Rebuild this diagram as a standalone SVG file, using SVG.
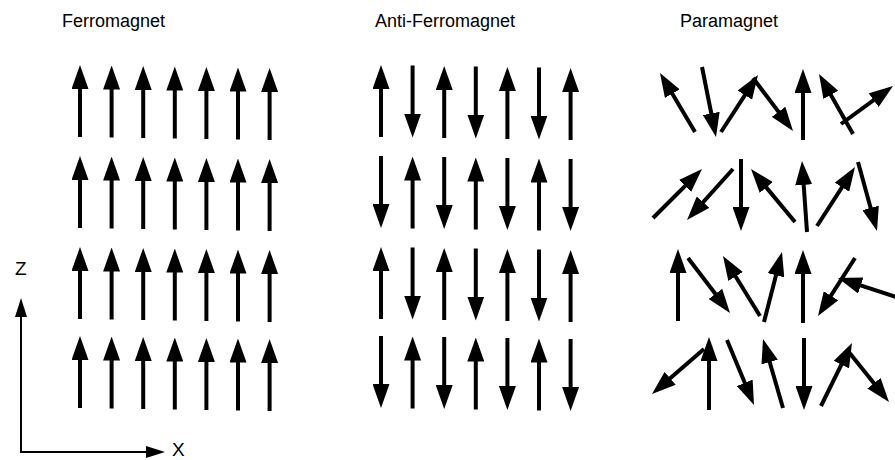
<svg xmlns="http://www.w3.org/2000/svg" xmlns:xlink="http://www.w3.org/1999/xlink" width="895" height="460" viewBox="0 0 895 460">
<style>
.t{font-family:"Liberation Sans",Arial,sans-serif;font-size:18px;fill:#000}
.ax{font-family:"Liberation Sans",Arial,sans-serif;font-size:19px;fill:#000}
.ar{fill:none;stroke:#000;stroke-width:4;stroke-dasharray:80 100;marker-end:url(#ah)}
.axis{fill:none;stroke:#000;stroke-width:2;marker-start:url(#axh);marker-end:url(#axh)}
</style>
<defs>
<marker id="ah" markerUnits="userSpaceOnUse" viewBox="0 0 24 17" markerWidth="24" markerHeight="17" refX="24" refY="8.5" orient="auto"><path d="M0,0 L24,8.5 L0,17 Z" fill="#000"/></marker>
<marker id="axh" markerUnits="userSpaceOnUse" viewBox="0 0 19 12" markerWidth="19" markerHeight="12" refX="9" refY="6" orient="auto-start-reverse"><path d="M0,0 L19,6 L0,12 Z" fill="#000"/></marker>
<path id="up" class="ar" pathLength="100" d="M0,72 L0,0"/>
<path id="dn" class="ar" pathLength="100" d="M0,0 L0,72"/>
</defs>
<g id="titles">
<text class="t" x="62" y="27">Ferromagnet</text>
<text class="t" x="375" y="27">Anti-Ferromagnet</text>
<text class="t" x="680" y="27">Paramagnet</text>
</g>
<g id="axes">
<path class="axis" d="M21,308 L21,452 L155,452"/>
<text class="ax" x="15" y="275">Z</text>
<text class="ax" x="172" y="456">X</text>
</g>
<g id="ferromagnet">
<g transform="translate(0,0)">
<use href="#up" x="80" y="65"/><use href="#up" x="111.6" y="65.5"/><use href="#up" x="143.2" y="66"/><use href="#up" x="174.8" y="66.5"/><use href="#up" x="206.4" y="67"/><use href="#up" x="238" y="67.5"/><use href="#up" x="269.6" y="68"/>
</g>
<g transform="translate(0,91)">
<use href="#up" x="80" y="65"/><use href="#up" x="111.6" y="65.5"/><use href="#up" x="143.2" y="66"/><use href="#up" x="174.8" y="66.5"/><use href="#up" x="206.4" y="67"/><use href="#up" x="238" y="67.5"/><use href="#up" x="269.6" y="68"/>
</g>
<g transform="translate(0,182)">
<use href="#up" x="80" y="65"/><use href="#up" x="111.6" y="65.5"/><use href="#up" x="143.2" y="66"/><use href="#up" x="174.8" y="66.5"/><use href="#up" x="206.4" y="67"/><use href="#up" x="238" y="67.5"/><use href="#up" x="269.6" y="68"/>
</g>
<g transform="translate(0,271)">
<use href="#up" x="80" y="65"/><use href="#up" x="111.6" y="65.5"/><use href="#up" x="143.2" y="66"/><use href="#up" x="174.8" y="66.5"/><use href="#up" x="206.4" y="67"/><use href="#up" x="238" y="67.5"/><use href="#up" x="269.6" y="68"/>
</g>
</g>
<g id="antiferromagnet">
<g transform="translate(0,0)">
<use href="#up" x="381" y="65"/><use href="#dn" x="412.6" y="65.5"/><use href="#up" x="444.2" y="66"/><use href="#dn" x="475.8" y="66.5"/><use href="#up" x="507.4" y="67"/><use href="#dn" x="539" y="67.5"/><use href="#up" x="570.6" y="68"/>
</g>
<g transform="translate(0,91)">
<use href="#dn" x="381" y="65"/><use href="#up" x="412.6" y="65.5"/><use href="#dn" x="444.2" y="66"/><use href="#up" x="475.8" y="66.5"/><use href="#dn" x="507.4" y="67"/><use href="#up" x="539" y="67.5"/><use href="#dn" x="570.6" y="68"/>
</g>
<g transform="translate(0,182)">
<use href="#up" x="381" y="65"/><use href="#dn" x="412.6" y="65.5"/><use href="#up" x="444.2" y="66"/><use href="#dn" x="475.8" y="66.5"/><use href="#up" x="507.4" y="67"/><use href="#dn" x="539" y="67.5"/><use href="#up" x="570.6" y="68"/>
</g>
<g transform="translate(0,271)">
<use href="#dn" x="381" y="65"/><use href="#up" x="412.6" y="65.5"/><use href="#dn" x="444.2" y="66"/><use href="#up" x="475.8" y="66.5"/><use href="#dn" x="507.4" y="67"/><use href="#up" x="539" y="67.5"/><use href="#dn" x="570.6" y="68"/>
</g>
</g>
<g id="paramagnet">
<path class="ar" pathLength="100" d="M695,132 L660,73"/>
<path class="ar" pathLength="100" d="M702,67 L716,137"/>
<path class="ar" pathLength="100" d="M721,132 L758,75"/>
<path class="ar" pathLength="100" d="M753,78 L793,131"/>
<path class="ar" pathLength="100" d="M803,140 L803,69"/>
<path class="ar" pathLength="100" d="M853,134 L819,74"/>
<path class="ar" pathLength="100" d="M841,124 L893,86"/>

<path class="ar" pathLength="100" d="M653,218 L702,169"/>
<path class="ar" pathLength="100" d="M733,169 L687,220"/>
<path class="ar" pathLength="100" d="M741,159 L741,231"/>
<path class="ar" pathLength="100" d="M795,222 L751,169"/>
<path class="ar" pathLength="100" d="M807,232 L802,161"/>
<path class="ar" pathLength="100" d="M817,226 L855,167"/>
<path class="ar" pathLength="100" d="M858,162 L877,231"/>

<path class="ar" pathLength="100" d="M678,321 L678,249"/>
<path class="ar" pathLength="100" d="M688,258 L730,313"/>
<path class="ar" pathLength="100" d="M760,316 L723,256"/>
<path class="ar" pathLength="100" d="M764,322 L782,252"/>
<path class="ar" pathLength="100" d="M803,323 L803,250"/>
<path class="ar" pathLength="100" d="M855,258 L818,316"/>
<path class="ar" pathLength="100" d="M905,300 L838,278"/>

<path class="ar" pathLength="100" d="M704,349 L652,394"/>
<path class="ar" pathLength="100" d="M709,410 L709,337"/>
<path class="ar" pathLength="100" d="M727,340 L754,405"/>
<path class="ar" pathLength="100" d="M783,408 L763,339"/>
<path class="ar" pathLength="100" d="M804,338 L804,410"/>
<path class="ar" pathLength="100" d="M821,406 L852,343"/>
<path class="ar" pathLength="100" d="M848,351 L889,402"/>
</g>
</svg>
